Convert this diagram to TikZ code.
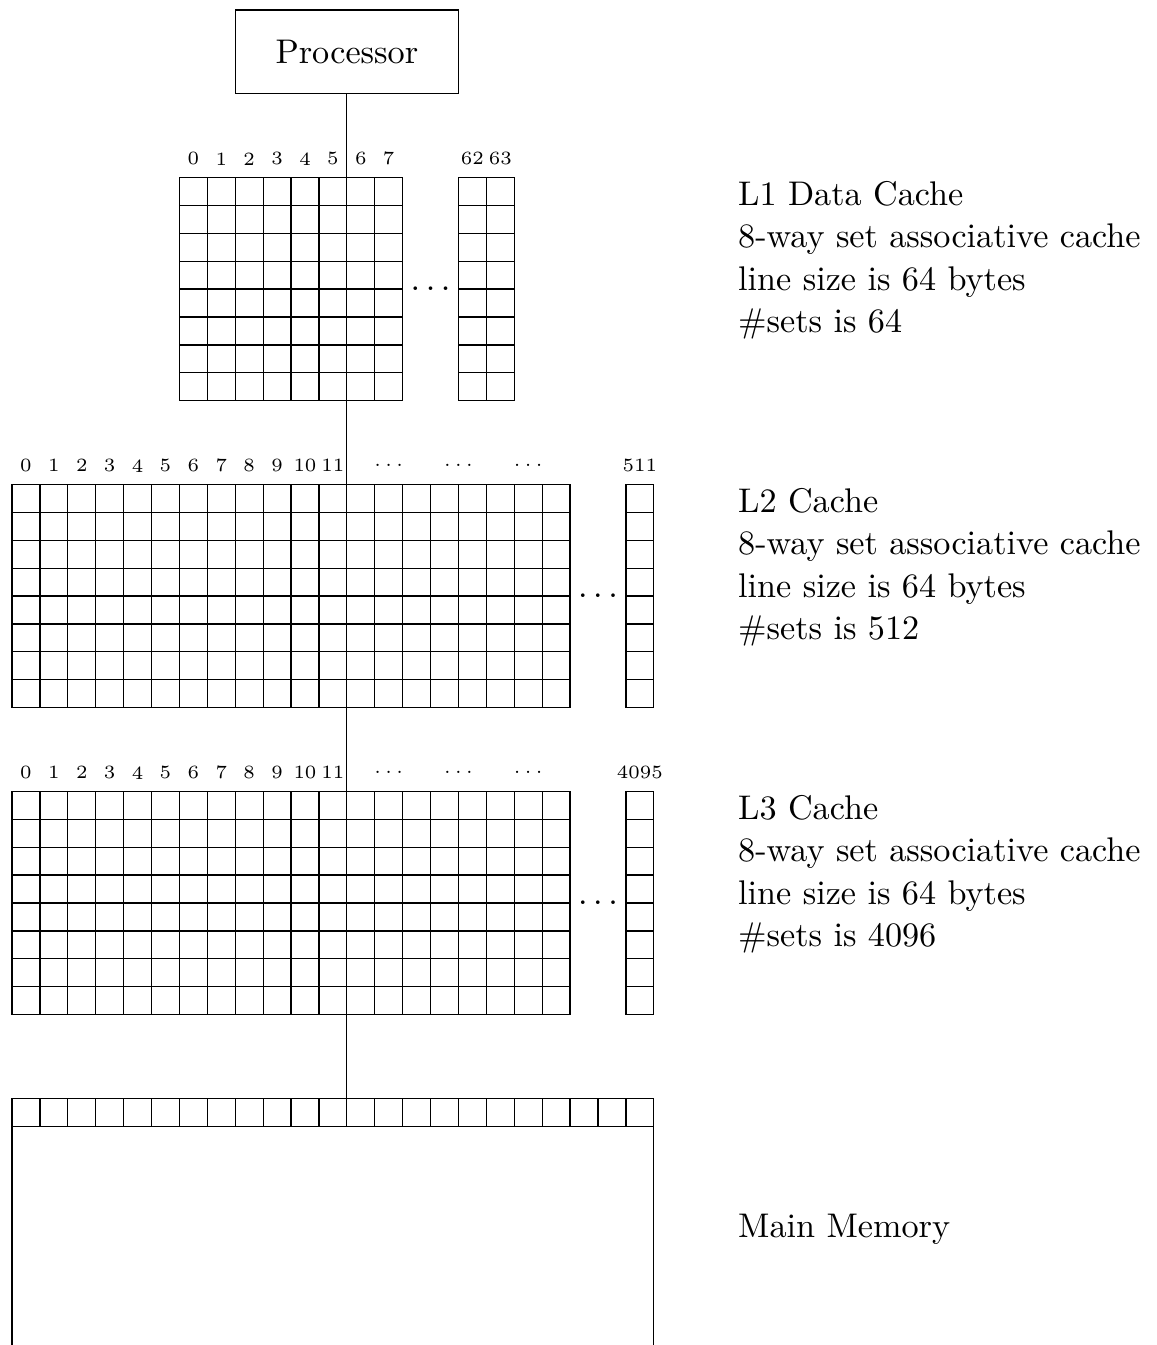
\documentclass[11pt,tikz,border=0pt]{standalone}
\usepackage{tikz}

\begin{document}
\begin{tikzpicture}[x=8.93pt, y=8.93pt,
    idx/.style={font=\tiny, inner sep=0pt},
    info/.style={anchor=base west, align=left, inner sep=0pt}]
    \useasboundingbox (-0.43,0.36) rectangle (41.0,-47.84);

    % Processor
    \node[draw, minimum width=71.44pt, minimum height=26.79pt] (proc) at (12,-1.5) {Processor};

    % Bus down to main memory
    \coordinate (memtop) at (12,-39);
    \draw (proc) -- (memtop);

    % L1 data cache
    \draw[step=1] (6,-6) grid (14,-14);
    \draw[step=1] (16,-6) grid (18,-14);
    \node (l1dots) at (15,-10) {$\ldots$};
    \foreach \i in {0,...,7}
        \node[idx] at (\i+6.5,-5.33) {\i};
    \node[idx] at (16.5,-5.33) {62};
    \node[idx] at (17.5,-5.33) {63};
    % (base anchor sits on the last line)
    \node[info] (l1) at (26,-11.57) {L1 Data Cache\\8-way set associative cache\\line size is 64 bytes\\\#sets is 64};

    % L2 cache
    \draw[step=1] (0,-17) grid (20,-25);
    \draw[step=1] (22,-17) grid (23,-25);
    \node (l2dots) at (21,-21) {$\ldots$};
    \foreach \i in {0,...,11}
        \node[idx] at (\i+0.5,-16.33) {\i};
    \foreach \x in {13.5,16,18.5}
        \node[idx] at (\x,-16.33) {$\ldots$};
    \node[idx] at (22.5,-16.33) {511};
    \node[info] (l2) at (26,-22.57) {L2 Cache\\8-way set associative cache\\line size is 64 bytes\\\#sets is 512};

    % L3 cache
    \draw[step=1] (0,-28) grid (20,-36);
    \draw[step=1] (22,-28) grid (23,-36);
    \node (l3dots) at (21,-32) {$\ldots$};
    \foreach \i in {0,...,11}
        \node[idx] at (\i+0.5,-27.33) {\i};
    \foreach \x in {13.5,16,18.5}
        \node[idx] at (\x,-27.33) {$\ldots$};
    \node[idx] at (22.5,-27.33) {4095};
    \node[info] (l3) at (26,-33.57) {L3 Cache\\8-way set associative cache\\line size is 64 bytes\\\#sets is 4096};

    % Main memory
    \draw[step=1] (0,-39) grid (23,-40);
    \draw (0,-40) -- (0,-47.84);
    \draw (23,-40) -- (23,-47.84);
    \node[info] (mem) at (26,-44) {Main Memory};
\end{tikzpicture}
\end{document}
